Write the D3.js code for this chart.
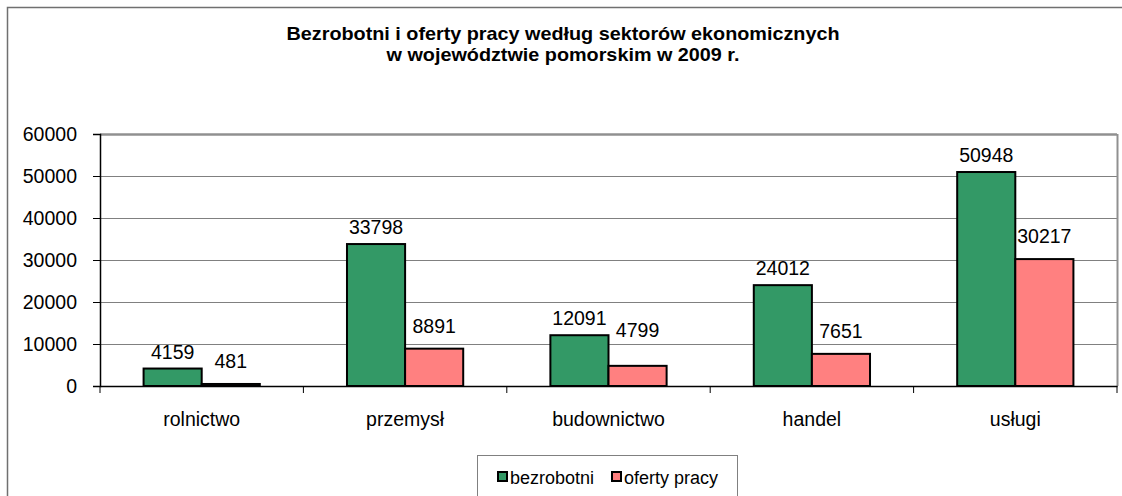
<!DOCTYPE html>
<html>
<head>
<meta charset="utf-8">
<script src="https://cdn.jsdelivr.net/npm/d3@7"></script>
<style>
  body { margin: 0; background: #fff; }
  text { font-family: "Liberation Sans", Arial, sans-serif; fill: #000; }
</style>
</head>
<body>
<div id="chart"></div>
<script>
var categories = ['rolnictwo', 'przemysł', 'budownictwo', 'handel', 'usługi'];
var bezrobotni = [4159, 33798, 12091, 24012, 50948];
var oferty = [481, 8891, 4799, 7651, 30217];
var seriesNames = ['bezrobotni', 'oferty pracy'];
var yTicks = [0, 10000, 20000, 30000, 40000, 50000, 60000];

var green = '#339966',
    pink = '#FF8080';

var pic_width = 1122, pic_height = 496;
var fontStack = '"Liberation Sans", Arial, sans-serif';

// gap between bar top and its value label, per series
var labelGap = { 'bezrobotni': 10, 'oferty pracy': 16 };
// the budownictwo offer label sits higher in the original
var labelNudge = { 'budownictwo|oferty pracy': 13 };

// plot area box
var margin = { top: 134, right: 5, bottom: 110, left: 100 };
var width = pic_width - margin.left - margin.right,
    height = pic_height - margin.top - margin.bottom;

var svg = d3.select('#chart').append('svg')
    .attr('width', pic_width)
    .attr('height', pic_height);

// outer frame
svg.append('rect')
    .attr('x', 7.5).attr('y', 7.5)
    .attr('width', pic_width).attr('height', pic_height)
    .attr('fill', 'none').attr('stroke', '#707070').attr('stroke-width', 1.5);

// title (source text is slightly stretched horizontally)
var title = svg.append('g').attr('transform', 'translate(563,0) scale(1.1,1)');
title.append('text').attr('x', 0).attr('y', 40).attr('text-anchor', 'middle')
    .style('font-weight', 'bold').style('font-size', '18px')
    .text('Bezrobotni i oferty pracy według sektorów ekonomicznych');
title.append('text').attr('x', 0).attr('y', 61).attr('text-anchor', 'middle')
    .style('font-weight', 'bold').style('font-size', '18px')
    .text('w województwie pomorskim w 2009 r.');

var g = svg.append('g')
    .attr('transform', 'translate(' + margin.left + ',' + margin.top + ')');

var yScale = d3.scaleLinear().domain([0, 60000]).range([height, 0]);
var xScale = d3.scaleBand().domain(categories).range([0, width]);
var inner = d3.scaleBand().domain(seriesNames).range([0, xScale.bandwidth()])
    .paddingOuter(0.75).paddingInner(0);

// gridlines
g.selectAll('.grid').data(yTicks.slice(1)).enter().append('line')
    .attr('x1', 0).attr('x2', width)
    .attr('y1', function(d) { return Math.round(yScale(d)) + 0.5; })
    .attr('y2', function(d) { return Math.round(yScale(d)) + 0.5; })
    .attr('stroke', '#808080').attr('stroke-width', 1);

// top and right border of plot area
g.append('line').attr('x1', width + 0.5).attr('x2', width + 0.5)
    .attr('y1', 0).attr('y2', height)
    .attr('stroke', '#909090').attr('stroke-width', 2);
g.append('line').attr('x1', 0).attr('x2', width)
    .attr('y1', 0.5).attr('y2', 0.5)
    .attr('stroke', '#909090').attr('stroke-width', 2.5);

var data = categories.map(function(c, i) {
    return [{ cat: c, s: seriesNames[0], v: bezrobotni[i], color: green },
            { cat: c, s: seriesNames[1], v: oferty[i], color: pink }];
});
var flat = [].concat.apply([], data);

g.selectAll('rect.bar').data(flat).enter().append('rect')
    .attr('class', 'bar')
    .attr('x', function(d) { return xScale(d.cat) + inner(d.s); })
    .attr('width', inner.bandwidth())
    .attr('y', function(d) { return yScale(d.v); })
    .attr('height', function(d) { return height - yScale(d.v); })
    .attr('fill', function(d) { return d.color; })
    .attr('stroke', '#000').attr('stroke-width', 2);

g.selectAll('text.val').data(flat).enter().append('text')
    .attr('class', 'val')
    .attr('x', function(d) { return xScale(d.cat) + inner(d.s) + inner.bandwidth() / 2; })
    .attr('y', function(d) {
        return yScale(d.v) - labelGap[d.s] - (labelNudge[d.cat + '|' + d.s] || 0);
    })
    .attr('text-anchor', 'middle')
    .style('font-size', '19.5px')
    .text(function(d) { return d.v; });

// y axis
var yAxis = d3.axisLeft(yScale).tickValues(yTicks).tickSize(7).tickPadding(16)
    .tickFormat(d3.format('d'));
var ya = g.append('g').call(yAxis);
ya.select('.domain').attr('stroke', '#000').attr('stroke-width', 1.5);
ya.selectAll('.tick line').attr('stroke', '#000');
ya.selectAll('text').style('font-size', '19.5px').style('font-family', fontStack);

// x axis
var xAxis = d3.axisBottom(xScale).tickSize(0).tickPadding(26);
var xa = g.append('g').attr('transform', 'translate(0,' + height + ')').call(xAxis);
xa.select('.domain').attr('stroke', '#000').attr('stroke-width', 1.5);
xa.selectAll('text').style('font-size', '19.5px').style('font-family', fontStack)
    .attr('dy', null).attr('y', 40);
// category separators
xa.selectAll('.sep').data(d3.range(categories.length + 1)).enter().append('line')
    .attr('x1', function(i) { return i * xScale.step(); })
    .attr('x2', function(i) { return i * xScale.step(); })
    .attr('y1', 0).attr('y2', 7)
    .attr('stroke', '#000');

// legend
var lg = svg.append('g').attr('transform', 'translate(477,455)');
lg.append('rect').attr('x', 0.5).attr('y', 0.5).attr('width', 260).attr('height', 50)
    .attr('fill', '#fff').attr('stroke', '#808080');
var items = [{ name: seriesNames[0], color: green, x: 20 },
             { name: seriesNames[1], color: pink, x: 134 }];
var li = lg.selectAll('.li').data(items).enter().append('g')
    .attr('transform', function(d) { return 'translate(' + d.x + ',0)'; });
li.append('rect').attr('x', 1).attr('y', 17).attr('width', 9).attr('height', 9)
    .attr('fill', function(d) { return d.color; })
    .attr('stroke', '#000').attr('stroke-width', 2);
li.append('text').attr('x', 13).attr('y', 29).style('font-size', '18px')
    .text(function(d) { return d.name; });
</script>
</body>
</html>
